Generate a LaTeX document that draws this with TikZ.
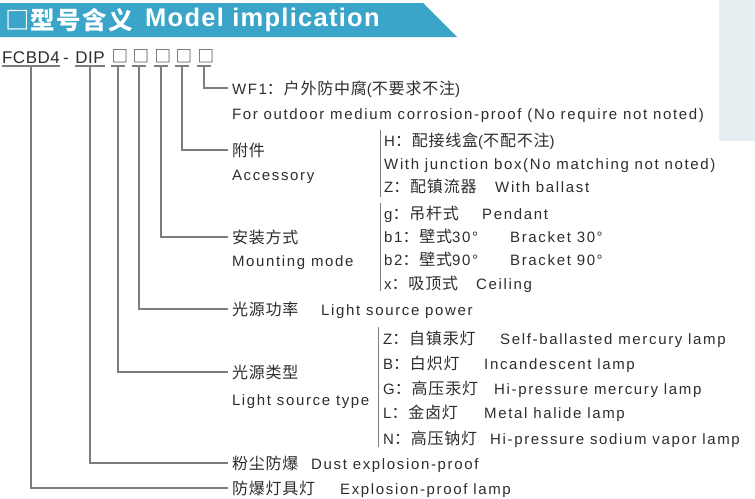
\documentclass[tikz,border=0pt]{standalone}
\usepackage{fontspec}
\setmainfont{Liberation Sans}[LetterSpace=11]
\newfontfamily\cjk{Noto Sans CJK SC}[LetterSpace=5]
\newfontfamily\cjkbox{Noto Sans CJK SC}
\newfontfamily\codefont{Liberation Sans}[LetterSpace=3]
\newfontfamily\hdlat{Liberation Sans}[LetterSpace=5]
\newcommand\zh[1]{{\cjk\fontsize{16}{18}\selectfont #1}}
\definecolor{hdr}{RGB}{58,165,200}
\definecolor{txt}{RGB}{45,45,45}
\definecolor{ln}{RGB}{125,125,125}
\definecolor{strip}{RGB}{230,238,241}
\begin{document}
\begin{tikzpicture}[x=1pt,y=-1pt,
  conn/.style={draw=ln, line width=1.1pt},
  bar/.style={draw=ln, line width=0.9pt},
  lab/.style={anchor=west, inner sep=0pt, outer xsep=4pt, text=txt, text height=12pt, text depth=0pt, font=\fontsize{15}{18}\selectfont},
  item/.style={anchor=west, inner sep=0pt, text=txt, text height=12pt, text depth=0pt, font=\fontsize{15}{18}\selectfont},
  code/.style={anchor=south, inner xsep=0pt, inner ysep=2pt, text height=13pt, text depth=0pt, text=txt, font=\codefont\fontsize{17}{20}\selectfont},
  boxc/.style={code, inner ysep=3.5pt, text width=13pt, align=center, font=\cjkbox\fontsize{16.5}{20}\selectfont},
  hd/.style={anchor=west, inner sep=0pt, text=white, font=\fontsize{25.5}{28}\selectfont},
]
\useasboundingbox (0,0) rectangle (755,498);
% header
\fill[hdr] (0,3) -- (423,3) -- (457,37) -- (0,37) -- cycle;
\fill[strip] (719,0) rectangle (755,141);
\node[hd] (hz) at (5,20) {\cjk\fontsize{24.5}{28}\selectfont\bfseries □型号含义};
\node[hd] (he) at (145,20) {\hdlat\bfseries Model implication};
% model code
\node[code] (f) at (31,66) {FCBD4};
\node[code] (dash) at (66,66) {-};
\node[code] (dip) at (90,66) {DIP};
\node[boxc] (b1) at (118,66) {□};
\node[boxc] (b2) at (139,66) {□};
\node[boxc] (b3) at (161,66) {□};
\node[boxc] (b4) at (182,66) {□};
\node[boxc] (b5) at (204,66) {□};
\foreach \n in {f,dip,b1,b2,b3,b4,b5}{\draw[conn] (\n.south west) -- (\n.south east);}
% labels
\node[lab] (wf) at (228,88) {WF1\zh{：户外防中腐}(\zh{不要求不注})};
\node[lab] (wfen) at (228,113) {For outdoor medium corrosion-proof (No require not noted)};
\node[lab] (acc) at (228,150) {\zh{附件}};
\node[lab] (accen) at (228,174) {Accessory};
\node[lab] (mnt) at (228,237) {\zh{安装方式}};
\node[lab] (mnten) at (228,260) {Mounting mode};
\node[lab] (pow) at (228,309) {\zh{光源功率}};
\node[item] (powen) at (321,309) {Light source power};
\node[lab] (typ) at (228,372) {\zh{光源类型}};
\node[lab] (typen) at (228,399) {Light source type};
\node[lab] (dust) at (228,463) {\zh{粉尘防爆}};
\node[item] (dusten) at (311,463) {Dust explosion-proof};
\node[lab] (exp) at (228,488) {\zh{防爆灯具灯}};
\node[item] (expen) at (340,488) {Explosion-proof lamp};
% accessory items
\draw[bar] (380,130) -- (380,197);
\node[item] (h1) at (384,140) {H\zh{：配接线盒}(\zh{不配不注})};
\node[item] (h2) at (384,163) {With junction box(No matching not noted)};
\node[item] (h3) at (384,186) {Z\zh{：配镇流器}};
\node[item] (h3e) at (495,186) {With ballast};
% mounting items
\draw[bar] (380,203) -- (380,291);
\node[item] (m1) at (384,213) {g\zh{：吊杆式}};
\node[item] (m1e) at (482,213) {Pendant};
\node[item] (m2) at (384,236) {b1\zh{：壁式}30°};
\node[item] (m2e) at (510,236) {Bracket 30°};
\node[item] (m3) at (384,259) {b2\zh{：壁式}90°};
\node[item] (m3e) at (510,259) {Bracket 90°};
\node[item] (m4) at (384,283) {x\zh{：吸顶式}};
\node[item] (m4e) at (476,283) {Ceiling};
% light source type items
\draw[bar] (378,327) -- (378,447);
\node[item] (t1) at (383,338) {Z\zh{：自镇汞灯}};
\node[item] (t1e) at (500,338) {Self-ballasted mercury lamp};
\node[item] (t2) at (383,363) {B\zh{：白炽灯}};
\node[item] (t2e) at (484,363) {Incandescent lamp};
\node[item] (t3) at (383,388) {G\zh{：高压汞灯}};
\node[item] (t3e) at (494,388) {Hi-pressure mercury lamp};
\node[item] (t4) at (383,412) {L\zh{：金卤灯}};
\node[item] (t4e) at (484,412) {Metal halide lamp};
\node[item] (t5) at (383,438) {N\zh{：高压钠灯}};
\node[item] (t5e) at (490,438) {Hi-pressure sodium vapor lamp};
% connectors
\draw[conn] (b5.south) |- (wf.west);
\draw[conn] (b4.south) |- (acc.west);
\draw[conn] (b3.south) |- (mnt.west);
\draw[conn] (b2.south) |- (pow.west);
\draw[conn] (b1.south) |- (typ.west);
\draw[conn] (dip.south) |- (dust.west);
\draw[conn] (f.south) |- (exp.west);
\end{tikzpicture}
\end{document}
